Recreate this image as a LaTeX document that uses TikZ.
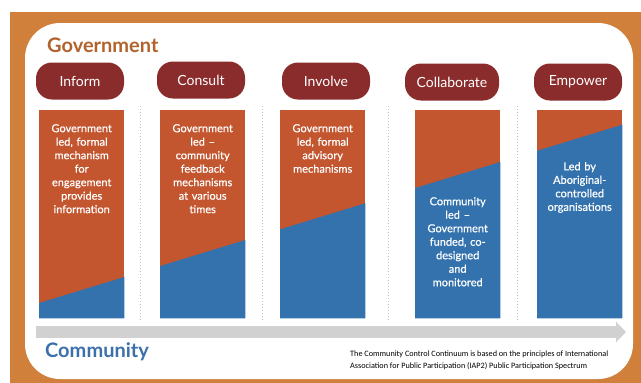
\documentclass[tikz,border=0pt]{standalone}
\usepackage{fontspec}
\setmainfont{Lato}
\newfontfamily\notefont{Carlito}
\newfontfamily\descfont[Ligatures=TeX, FakeBold=0.6]{Lato}
\usepackage{xcolor}
\usepackage{tikz}
\usetikzlibrary{positioning}
\usetikzlibrary{arrows.meta}

\definecolor{frameorange}{HTML}{D0803A}
\definecolor{govorange}{HTML}{C3562F}
\definecolor{commblue}{HTML}{3472AD}
\definecolor{pillred}{HTML}{8B2C2C}
\definecolor{govtext}{HTML}{B2622C}
\definecolor{commtext}{HTML}{3B70AA}

\begin{document}
\begin{tikzpicture}
  [ x=1pt, y=-1pt,
    stage/.style={fill=pillred, text=white, rounded corners=16pt,
      minimum width=88pt, minimum height=37pt, inner sep=0pt,
      font=\fontsize{14}{16}\selectfont},
    column/.style={fill=govorange, minimum width=85pt,
      minimum height=208pt, inner sep=0pt, anchor=north west},
    desc/.style={text=white, align=center, text width=84pt, inner sep=0pt,
      anchor=north, font=\descfont\fontsize{11}{13.5}\selectfont},
    sep/.style={draw=black!25, dotted, line width=1pt}
  ]

  \useasboundingbox (0,0) rectangle (641,383);
  \fill[white] (0,0) rectangle (641,383);
  \fill[frameorange] (10,12) rectangle (641,383);
  \fill[white, rounded corners=35pt] (25,23) rectangle (633,379);

  \foreach \sx in {140,262,388,517}
    \draw[sep] (\sx,106) -- (\sx,320);

  \node  (c1) at ( 39,110) [column] {};
  \node  (c2) at (160,110) [column] {};
  \node  (c3) at (280,110) [column] {};
  \node  (c4) at (415,110) [column] {};
  \node  (c5) at (537,110) [column] {};

  \begin{scope}
    \clip (c1.north west) rectangle (c1.south east)
          (c2.north west) rectangle (c2.south east)
          (c3.north west) rectangle (c3.south east)
          (c4.north west) rectangle (c4.south east)
          (c5.north west) rectangle (c5.south east);
    \fill[commblue] (0,315) -- (641,119) -- (641,383) -- (0,383) -- cycle;
  \end{scope}

  \node  (p1) at ( 80,81) [stage] {Inform};
  \node  (p2) at (201,80) [stage] {Consult};
  \node  (p3) at (326,81) [stage] {Involve};
  \node  (p4) at (452,82) [stage, minimum width=94pt] {Collaborate};
  \node  (p5) at (578,82) [stage] {Empower};

  \node (d1) [desc, below=14pt of c1.north]
    {Government\\led, formal\\mechanism\\for\\engagement\\provides\\information};
  \node (d2) [desc, below=14pt of c2.north]
    {Government\\led --\\community\\feedback\\mechanisms\\at various\\times};
  \node (d3) [desc, below=14pt of c3.north]
    {Government\\led, formal\\advisory\\mechanisms};
  \node (d4) [desc, below=87pt of c4.north]
    {Community\\led --\\Government\\funded, co-\\designed\\and\\monitored};
  \node (d5) [desc, below=52pt of c5.north]
    {Led by\\Aboriginal-\\controlled\\organisations};

  \coordinate (arrowtail) at ( 36,332);
  \coordinate (arrowhead) at (626,332);
  \draw[line width=12pt, black!18, -{Triangle[length=10pt, width=20pt]}]
    (arrowtail) -- (arrowhead);

  \node (govtitle)  at (47,52)  [anchor=base west, inner sep=0pt, text=govtext,
    font=\bfseries\fontsize{20}{24}\selectfont] {Government};
  \node (commtitle) at (45,357) [anchor=base west, inner sep=0pt, text=commtext,
    font=\bfseries\fontsize{20}{24}\selectfont] {Community};

  \node (note) at (350,351) [anchor=north west, inner sep=0pt, align=left,
    font=\notefont\fontsize{8.2}{11.5}\selectfont]
    {The Community Control Continuum is based on the principles of International\\
     Association for Public Participation (IAP2) Public Participation Spectrum};
\end{tikzpicture}
\end{document}
